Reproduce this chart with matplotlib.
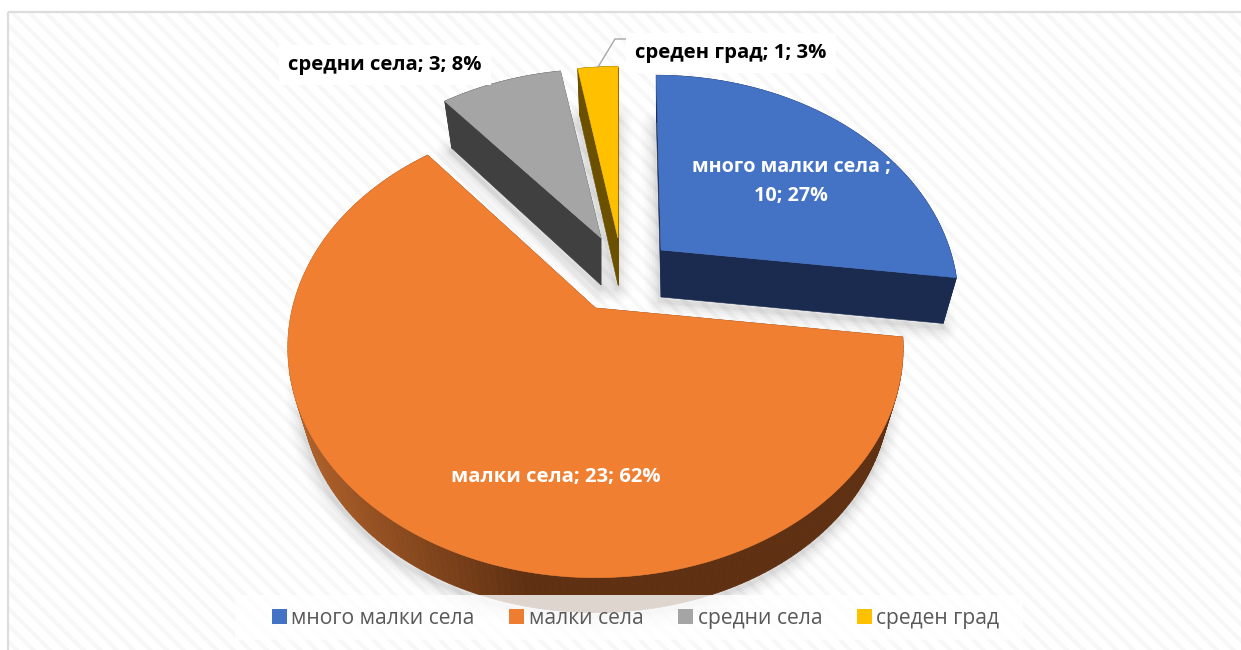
import matplotlib
matplotlib.use("Agg")
import matplotlib.pyplot as plt
import numpy as np
from matplotlib.patches import Polygon, Rectangle, Patch

categories = ["много малки села", "малки села", "средни села", "среден град"]
values = [10, 23, 3, 1]
label_suffix_sep = ["много малки села ;\n", "малки села; ", "средни села; ", "среден град; "]
top_colors = ["#4472C4", "#F07F32", "#A5A5A5", "#FFC000"]
legend_colors = ["#4472C4", "#ED7D31", "#A5A5A5", "#FFC000"]
side_colors = ["#1A2B4F", "#5F3012", "#404040", "#6B5000"]

# placement of each exploded slice in picture pixels (layout, not data)
apex = [(661, 250), (595.5, 308), (601, 238), (618, 238)]
persp = [  # sx, sy, k, shear
    (289, 212, 0.2135, -0.02),
    (303, 223, 0.173, 0.0),
    (290, 205, 0.2135, 0.0),
    (288, 208, 0.2135, 0.0),
]
DROP, SHRINK = 47, 0.955

plt.rcParams["font.family"] = ["Open Sans", "DejaVu Sans"]
plt.rcParams["hatch.color"] = "#f7f7f7"
plt.rcParams["hatch.linewidth"] = 3.0

fig = plt.figure(figsize=(12.41, 6.5), dpi=100, facecolor="white")
ax = fig.add_axes([0, 0, 1, 1])
ax.set_xlim(0, 1241)
ax.set_ylim(650, 0)
ax.axis("off")

ax.add_patch(Rectangle((8, 11.5), 1240, 650, facecolor="white", edgecolor="#f7f7f7",
                       hatch="\\\\", lw=0, zorder=0))
ax.add_patch(Rectangle((8, 11.5), 1240, 650, facecolor="none", edgecolor="#dcdcdc", lw=1.6, zorder=1))


def top_xy(i, X, Y):
    sx, sy, k, sh = persp[i]
    w = 1 + k * Y
    return sx * (X + sh * Y) / w, -sy * Y / w


def project(i, theta, bottom=False):
    X, Y = np.sin(theta), np.cos(theta)
    dx, dy = top_xy(i, X, Y)
    ax0, ay0 = apex[i]
    if bottom:
        dx = dx * SHRINK
        dy = np.where(dy > 0, dy * SHRINK, dy) + DROP
    return ax0 + dx, ay0 + dy


def lerp_color(x):
    t = np.clip((x - 287) / (530 - 287), 0, 1)
    a, b = np.array([0xB3, 0x63, 0x2B]) / 255, np.array([0x5F, 0x30, 0x12]) / 255
    return tuple(a + (b - a) * t)


total = sum(values)
edges = np.concatenate([[0], np.cumsum(values)]) / total * 2 * np.pi

for i in [1, 2, 3, 0]:
    th = np.linspace(edges[i], edges[i + 1], 200 if i == 1 else 50)
    tx, ty = project(i, th)
    bx, by = project(i, th, bottom=True)
    a0 = np.array(apex[i], float)
    a1 = a0 + [0, DROP]
    top_poly = np.vstack([a0, np.column_stack([tx, ty])])
    bot_poly = np.vstack([a1, np.column_stack([bx, by])])

    # soft cast shadow around the lower silhouette only
    for lw, al in zip([22, 18, 14, 10, 6, 3], [0.012, 0.016, 0.02, 0.025, 0.03, 0.035]):
        ax.add_patch(Polygon(bot_poly + [-1, 4], closed=True, facecolor="none", edgecolor="black",
                             lw=lw, alpha=al, joinstyle="round", zorder=2))

    # radial walls
    for xe, ye, xb, yb in [(tx[0], ty[0], bx[0], by[0]), (tx[-1], ty[-1], bx[-1], by[-1])]:
        ax.add_patch(Polygon([a0, (xe, ye), (xb, yb), a1], closed=True,
                             facecolor=side_colors[i], edgecolor=side_colors[i], lw=0.4, zorder=3))
    # outer wall
    for j in range(len(th) - 1):
        c = lerp_color(tx[j]) if i == 1 else side_colors[i]
        ax.add_patch(Polygon([(tx[j], ty[j]), (tx[j + 1], ty[j + 1]), (bx[j + 1], by[j + 1]), (bx[j], by[j])],
                             closed=True, facecolor=c, edgecolor=c, lw=0.6, zorder=3))
    # upper face
    ax.add_patch(Polygon(top_poly, closed=True, facecolor=top_colors[i], edgecolor=top_colors[i], lw=0.4, zorder=4))

pct = [round(v / total * 100) for v in values]
texts = [f"{s}{v}; {p}%" for s, v, p in zip(label_suffix_sep, values, pct)]
FS = 14.6
ax.text(791, 181.5, texts[0], color="white", fontweight="bold", fontsize=14.2, ha="center", va="center",
        linespacing=1.58, zorder=6)
ax.text(556, 477, texts[1], color="white", fontweight="bold", fontsize=FS, ha="center", va="center", zorder=6)
ax.text(385, 65, texts[2], color="black", fontweight="bold", fontsize=FS, ha="center", va="center", zorder=6,
        bbox=dict(facecolor="white", edgecolor="none", pad=7))
ax.text(731, 53, texts[3], color="black", fontweight="bold", fontsize=FS, ha="center", va="center", zorder=6,
        bbox=dict(facecolor="white", edgecolor="none", pad=7))
ax.plot([598, 615, 627], [67, 39, 39], color="#a6a6a6", lw=1.0, zorder=5)

ax.add_patch(Rectangle((235, 595), 788, 45, facecolor="white", edgecolor="none", alpha=0.8, zorder=7))
handles = [Patch(facecolor=c, edgecolor="none", label=n) for c, n in zip(legend_colors, categories)]
leg = ax.legend(handles=handles, ncols=4, loc="center", bbox_to_anchor=(635.5, 618.5), bbox_transform=ax.transData,
                frameon=False, fontsize=15.2, labelcolor="#595959", handlelength=0.72, handleheight=0.72,
                handletextpad=0.2, columnspacing=1.65, borderpad=0, borderaxespad=0)
leg.set_zorder(8)
fig.savefig("out.png", dpi=100)
